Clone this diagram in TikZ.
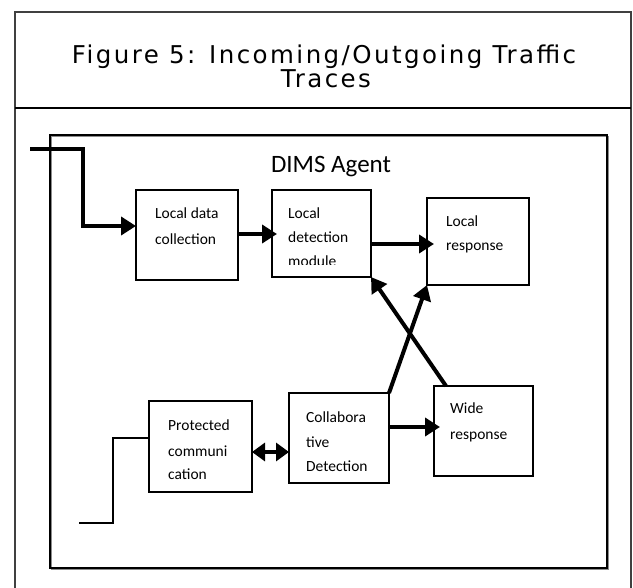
\documentclass[tikz,border=0pt]{standalone}
\usepackage{fontspec}
\setmainfont{Carlito}
\newfontfamily\titlefont{DejaVu Sans}[LetterSpace=10]
\usetikzlibrary{arrows.meta}

\begin{document}
\begin{tikzpicture}[x=1pt,y=-1pt,
  box/.style={draw, line width=1.8pt, inner sep=0pt, outer sep=0pt, anchor=north west},
  lbl/.style={inner sep=0pt, anchor=base west, font=\fontsize{15.5}{24.5}\selectfont},
  titletext/.style={inner sep=0pt, anchor=base, font=\titlefont\fontsize{24.5}{25}\selectfont},
  flow/.style={line width=4pt, -{Triangle[length=15pt,width=18pt]}},
  both/.style={line width=4pt, {Triangle[length=13pt,width=18pt]}-{Triangle[length=13pt,width=18pt]}},
  wire/.style={line width=2pt}]
\useasboundingbox (0,0) rectangle (633,588);

% page frame with title strip
\draw[line width=1.3pt, black!75] (15,588) -- (15,12) -- (631,12) -- (631,588);
\draw[line width=1.6pt] (15,108) -- (631,108);
\node[titletext] (title1) at (324,64) {Figure 5: Incoming/Outgoing Traffic};
\node[titletext] (title2) at (326,88) {Traces};

% agent boundary with a light drop shadow
\draw[line width=1.5pt, black!45] (51.5,136.5) rectangle (608.5,569.5);
\draw[line width=2pt] (50,135) rectangle (607,568);
\node[inner sep=0pt, anchor=base, font=\fontsize{25}{30}\selectfont] (agent) at (331,173) {DIMS Agent};

% modules
\node[box, minimum width=102pt, minimum height=90pt] (ldc) at (136,190) {};
\node[box, minimum width=99pt,  minimum height=87pt] (ldm) at (272,190) {};
\node[box, minimum width=102pt, minimum height=87pt] (lr)  at (427,198) {};
\node[box, minimum width=103pt, minimum height=91pt] (pc)  at (149,401) {};
\node[box, minimum width=100pt, minimum height=90pt] (cd)  at (289,393) {};
\node[box, minimum width=99pt,  minimum height=90pt] (wr)  at (434,386) {};

% module captions
\node[lbl] (ldc1) at (155,219) {Local data};
\node[lbl] (ldc2) at (155,245) {collection};
\node[lbl] (ldm1) at (288,219) {Local};
\node[lbl] (ldm2) at (288,243) {detection};
\begin{scope}
  \clip (272,190) rectangle (371,265);
  \node[lbl] (ldm3) at (288,267) {module};
\end{scope}
\node[lbl] (lr1) at (446,227) {Local};
\node[lbl] (lr2) at (446,251) {response};
\node[lbl] (pc1) at (168,431) {Protected};
\node[lbl] (pc2) at (168,457) {communi};
\node[lbl] (pc3) at (168,480) {cation};
\node[lbl] (cd1) at (306,423) {Collabora};
\node[lbl] (cd2) at (306,448) {tive};
\node[lbl] (cd3) at (306,472) {Detection};
\node[lbl] (wr1) at (450,414) {Wide};
\node[lbl] (wr2) at (450,440) {response};

% incoming traffic
\coordinate (in) at (30,149);
\coordinate (inbend) at (83,226);
\draw[flow] (in) -| (inbend) -- (inbend -| ldc.west);

% outgoing traffic
\coordinate (out) at (79,523);
\coordinate (outbend) at (113,438);
\draw[wire] (out) -| (outbend) -- (outbend -| pc.west);

% internal flows (tips reach slightly into the target boxes)
\draw[flow, shorten >=-5pt] (ldc.east |- 0,234) -- (ldm.west |- 0,234);
\draw[flow, shorten >=-7pt] (ldm.east |- 0,244) -- (lr.west |- 0,244);
\draw[flow, shorten >=-6pt] (cd.east |- 0,427) -- (wr.west |- 0,427);
\draw[both] (pc.east |- 0,452) -- (cd.west |- 0,452);
\draw[flow] (cd.north east) -- (lr.south west);
\draw[flow] ([xshift=12pt]wr.north west) -- (ldm.south east);
\end{tikzpicture}
\end{document}
